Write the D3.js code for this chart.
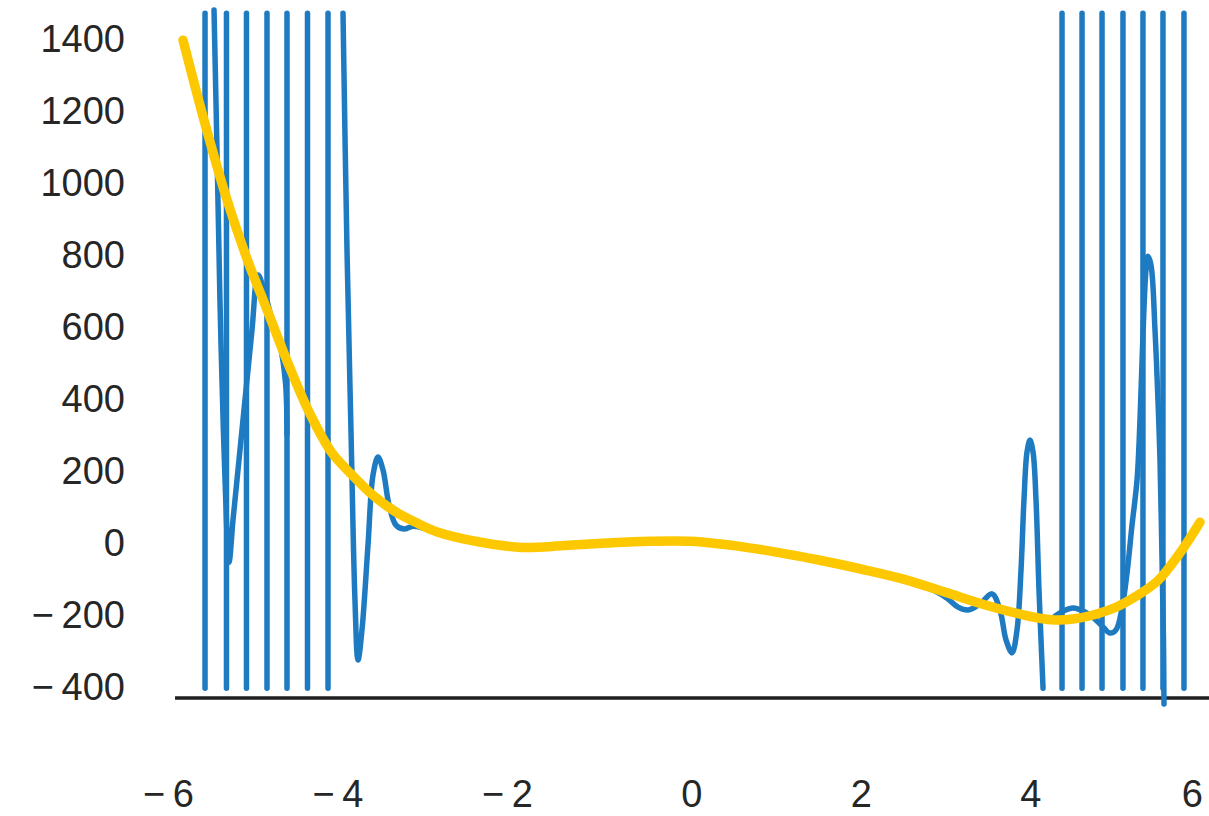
<!DOCTYPE html>
<html>
<head>
<meta charset="utf-8">
<script src="https://cdn.jsdelivr.net/npm/d3@7"></script>
<style>
  html, body { margin: 0; padding: 0; background: #ffffff; }
  svg { display: block; }
  .tick-label { font-family: "Liberation Sans", Arial, sans-serif; font-size: 38px; fill: #262626; }
</style>
</head>
<body>
<svg id="chart" width="1209" height="816"></svg>
<script>
// Tick values for both axes
const xTicks = [-6, -4, -2, 0, 2, 4, 6];
const yTicks = [-400, -200, 0, 200, 400, 600, 800, 1000, 1200, 1400];

// Vertical plot range: the oscillating curve is cut off outside it
const plotRange = [-406, 1469];
// Level of the horizontal axis line
const axisLevel = -433;

// Smooth fitted curve (yellow)
const fitX = [-6, -5.75, -5.5, -5.25, -5, -4.75, -4.5, -4.25, -4, -3.75, -3.5, -3.25, -3,
              -2.5, -2, -1.5, -1, -0.5, 0, 0.5, 1, 1.5, 2, 2.5, 3, 3.5, 4, 4.25, 4.5,
              4.75, 5, 5.25, 5.5, 5.75, 6];
const fitY = [1394, 1170, 965, 790, 640, 490, 355, 250, 185, 128, 85, 54, 28,
              0, -15, -10, -3, 2, 2, -10, -28, -50, -75, -103, -140, -177, -207, -216, -214,
              -202, -182, -150, -108, -35, 55];

// Interpolating curve (blue): spikes that run straight through the whole plot range
const spikeX = [-5.740, -5.487, -5.251, -5.009, -4.773, -4.531, -4.289,
                4.372, 4.608, 4.844, 5.091, 5.327, 5.563, 5.811];

// Interpolating curve (blue): pieces that turn around inside the plot range
const waveLeft = [
  [-5.634, 1478], [-5.599, 1089], [-5.564, 672], [-5.540, 450], [-5.504, 172],
  [-5.457, -56], [-5.410, 61], [-5.363, 172], [-5.269, 394], [-5.186, 589],
  [-5.115, 742], [-5.044, 700], [-4.950, 617], [-4.855, 547], [-4.790, 440], [-4.773, 300]
];
const waveMiddle = [
  [-4.112, 1469], [-4.065, 811], [-4.018, 311], [-3.971, -161], [-3.935, -328],
  [-3.888, -244], [-3.817, -8], [-3.758, 186], [-3.699, 236], [-3.640, 200],
  [-3.569, 103], [-3.487, 47], [-3.392, 36], [-3.274, 44], [-2.850, 15],
  [-2.024, -15], [-1.080, -5], [-0.018, 1], [0.690, -15], [1.280, -38],
  [1.870, -68], [2.460, -100], [2.873, -136], [3.015, -156], [3.145, -181],
  [3.263, -189], [3.404, -172], [3.546, -144], [3.640, -189], [3.711, -272],
  [3.782, -308], [3.841, -244], [3.888, -78], [3.923, 117], [3.959, 250],
  [3.994, 283], [4.030, 250], [4.065, 117], [4.100, -133], [4.124, -272], [4.148, -406]
];
const waveRight = [
  [4.289, -206], [4.383, -192], [4.501, -183], [4.643, -194], [4.761, -214],
  [4.867, -239], [4.938, -253], [5.009, -244], [5.080, -183], [5.139, -86],
  [5.198, 47], [5.257, 172], [5.292, 339], [5.327, 575], [5.363, 756],
  [5.386, 794], [5.422, 769], [5.469, 589], [5.504, 394], [5.528, 228],
  [5.552, -50], [5.569, -272], [5.575, -450]
];

const width = 1209, height = 816;
const svg = d3.select("#chart");

const x = d3.scaleLinear().domain([-6, 6]).range([183, 1200]);
const y = d3.scaleLinear().domain([-400, 1400]).range([686, 38]);

const blue = "#1f7bc1";
const yellow = "#fdc800";

const line = d3.line()
  .x(d => x(d[0]))
  .y(d => y(d[1]))
  .curve(d3.curveCatmullRom.alpha(0.5));

// Horizontal axis line
svg.append("line")
  .attr("x1", x(-6.094)).attr("x2", x(6.11))
  .attr("y1", y(axisLevel)).attr("y2", y(axisLevel))
  .attr("stroke", "#1e1e1e").attr("stroke-width", 3.5);

// Blue curve
const blueG = svg.append("g")
  .attr("fill", "none")
  .attr("stroke", blue)
  .attr("stroke-width", 5.5)
  .attr("stroke-linecap", "round")
  .attr("stroke-linejoin", "round");

blueG.selectAll("line.spike")
  .data(spikeX)
  .join("line")
  .attr("class", "spike")
  .attr("x1", d => x(d)).attr("x2", d => x(d))
  .attr("y1", y(plotRange[0])).attr("y2", y(plotRange[1]));

blueG.selectAll("path.wave")
  .data([waveLeft, waveMiddle, waveRight])
  .join("path")
  .attr("class", "wave")
  .attr("d", line);

// Yellow fitted curve
svg.append("path")
  .datum(d3.zip(fitX, fitY))
  .attr("fill", "none")
  .attr("stroke", yellow)
  .attr("stroke-width", 9.5)
  .attr("stroke-linecap", "round")
  .attr("stroke-linejoin", "round")
  .attr("d", line);

// Tick labels
const fmt = v => v < 0 ? "\u2212\u2009" + Math.abs(v) : String(v);

svg.append("g").selectAll("text")
  .data(yTicks)
  .join("text")
  .attr("class", "tick-label")
  .attr("x", 125)
  .attr("y", d => y(d))
  .attr("dy", "0.36em")
  .attr("text-anchor", "end")
  .text(fmt);

svg.append("g").selectAll("text")
  .data(xTicks)
  .join("text")
  .attr("class", "tick-label")
  .attr("x", d => Math.min(x(d) + 11, width - 6))
  .attr("y", 807)
  .attr("text-anchor", "end")
  .text(fmt);
</script>
</body>
</html>
